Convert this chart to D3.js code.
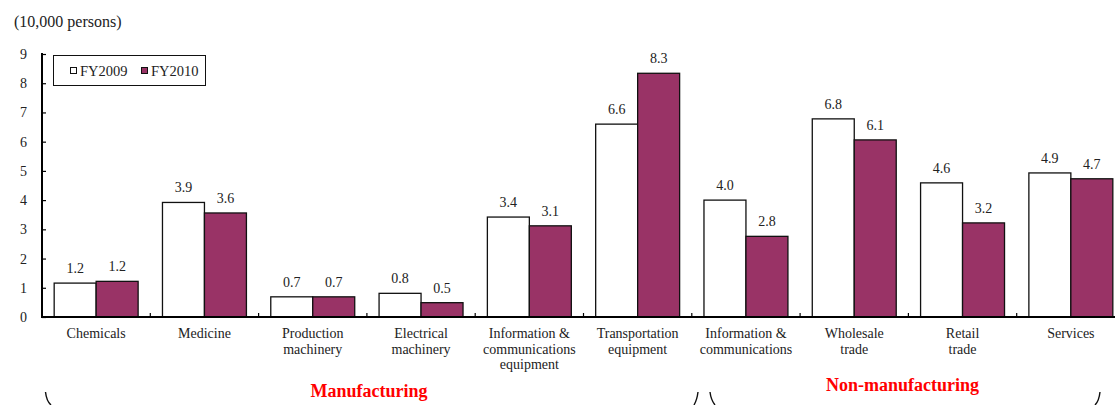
<!DOCTYPE html>
<html>
<head>
<meta charset="utf-8">
<script src="https://cdn.jsdelivr.net/npm/d3@7"></script>
<style>
  html, body { margin: 0; padding: 0; background: #fff; }
  svg { display: block; font-family: "Liberation Serif", "Times New Roman", serif; }
</style>
</head>
<body>
<svg id="chart" width="1115" height="405"></svg>
<script>
// Categories (line breaks mark wrapped label lines)
const categories = [
  "Chemicals",
  "Medicine",
  "Production\nmachinery",
  "Electrical\nmachinery",
  "Information &\ncommunications\nequipment",
  "Transportation\nequipment",
  "Information &\ncommunications",
  "Wholesale\ntrade",
  "Retail\ntrade",
  "Services"
];
const seriesNames = ["FY2009", "FY2010"];
const fy2009 = [1.16, 3.92, 0.69, 0.81, 3.42, 6.60, 4.00, 6.78, 4.59, 4.93];
const fy2010 = [1.22, 3.56, 0.69, 0.49, 3.12, 8.34, 2.76, 6.06, 3.22, 4.73];
const yTicks = [0, 1, 2, 3, 4, 5, 6, 7, 8, 9];
const groups = [
  { name: "Manufacturing", from: 0, to: 5 },
  { name: "Non-manufacturing", from: 6, to: 9 }
];

const seriesColors = { FY2009: "#ffffff", FY2010: "#993366" };
const svg = d3.select("#chart");

const x0 = 42, x1 = 1125, yBase = 317, yTop = 54;
const x = d3.scaleBand().domain(categories).range([x0, x1]).padding(0);
const xs = d3.scaleBand().domain(seriesNames).range([0, x.bandwidth()])
  .paddingInner(0).paddingOuter(0.29);
const y = d3.scaleLinear().domain([0, 9]).range([yBase, yTop]);

const rows = categories.map((c, i) => ({
  cat: c,
  vals: [{ s: "FY2009", v: fy2009[i] }, { s: "FY2010", v: fy2010[i] }]
}));

// Bars
const g = svg.append("g");
const grp = g.selectAll("g.cat").data(rows).join("g")
  .attr("class", "cat")
  .attr("transform", d => `translate(${x(d.cat)},0)`);
grp.selectAll("rect").data(d => d.vals).join("rect")
  .attr("x", d => xs(d.s))
  .attr("y", d => y(d.v))
  .attr("width", xs.bandwidth())
  .attr("height", d => y(0) - y(d.v))
  .attr("fill", d => seriesColors[d.s])
  .attr("stroke", "#111")
  .attr("stroke-width", 1.3);

// Value labels
grp.selectAll("text.val").data(d => d.vals).join("text")
  .attr("class", "val")
  .attr("x", d => xs(d.s) + xs.bandwidth() / 2)
  .attr("y", d => y(d.v) - 10)
  .attr("text-anchor", "middle")
  .attr("font-size", 14)
  .attr("fill", "#222")
  .text(d => d3.format(".1f")(d.v));

// Y axis
const yAxis = d3.axisLeft(y).tickValues(yTicks).tickSize(-4).tickPadding(15)
  .tickFormat(d3.format("d"));
const ya = svg.append("g").attr("transform", `translate(${x0},0)`).call(yAxis);
ya.select(".domain").attr("stroke", "#000").attr("stroke-width", 2)
  .attr("d", `M0,${yBase}V${yTop - 1}`);
ya.selectAll(".tick line").attr("stroke", "#000").attr("stroke-width", 1.2);
ya.selectAll(".tick text").attr("font-size", 14).attr("fill", "#222")
  .attr("font-family", "Liberation Serif, serif");

// X axis line and boundary ticks
svg.append("line")
  .attr("x1", x0 - 1).attr("x2", x1)
  .attr("y1", yBase).attr("y2", yBase)
  .attr("stroke", "#000").attr("stroke-width", 2);
svg.append("g").selectAll("line").data(categories.slice(0, -1)).join("line")
  .attr("x1", d => x(d) + x.bandwidth())
  .attr("x2", d => x(d) + x.bandwidth())
  .attr("y1", yBase).attr("y2", yBase - 4)
  .attr("stroke", "#000").attr("stroke-width", 1.2);

// Category labels
const cl = svg.append("g").selectAll("text").data(categories).join("text")
  .attr("text-anchor", "middle")
  .attr("font-size", 14)
  .attr("fill", "#222")
  .attr("transform", d => `translate(${x(d) + x.bandwidth() / 2},338)`);
cl.selectAll("tspan").data(d => d.split("\n")).join("tspan")
  .attr("x", 0)
  .attr("y", (d, i) => i * 15.5)
  .text(d => d);

// Unit title
svg.append("text").attr("x", 14).attr("y", 27)
  .attr("font-size", 16).attr("fill", "#222").text("(10,000 persons)");

// Legend
const lg = svg.append("g");
lg.append("rect").attr("x", 53.5).attr("y", 55.5).attr("width", 152).attr("height", 30)
  .attr("fill", "#fff").attr("stroke", "#111").attr("stroke-width", 1);
const li = lg.selectAll("g.item").data(seriesNames).join("g")
  .attr("class", "item")
  .attr("transform", (d, i) => `translate(${70 + i * 71},0)`);
li.append("rect").attr("x", 0.5).attr("y", 67.5).attr("width", 6).attr("height", 6)
  .attr("fill", d => seriesColors[d]).attr("stroke", "#111").attr("stroke-width", 1);
li.append("text").attr("x", 10).attr("y", 76).attr("font-size", 14.5)
  .attr("fill", "#222").text(d => d);

// Group labels
svg.append("g").selectAll("text").data(groups).join("text")
  .attr("x", d => (x(categories[d.from]) + x(categories[d.to]) + x.bandwidth()) / 2)
  .attr("dx", (d, i) => i === 0 ? 2 : -6)
  .attr("y", (d, i) => i === 0 ? 397 : 391)
  .attr("text-anchor", "middle")
  .attr("font-size", 18)
  .attr("font-weight", "bold")
  .attr("fill", "#ff0000")
  .text(d => d.name);

// Brace ends below the categories
const braces = [
  "M45.5,392 Q46.5,401 51,405",
  "M698,392 Q697,400 694,405",
  "M710,392 Q711,400 715,405",
  "M1100,392 Q1099,401 1095,405"
];
svg.append("g").selectAll("path").data(braces).join("path")
  .attr("d", d => d)
  .attr("fill", "none")
  .attr("stroke", "#111")
  .attr("stroke-width", 1.4);
</script>
</body>
</html>
